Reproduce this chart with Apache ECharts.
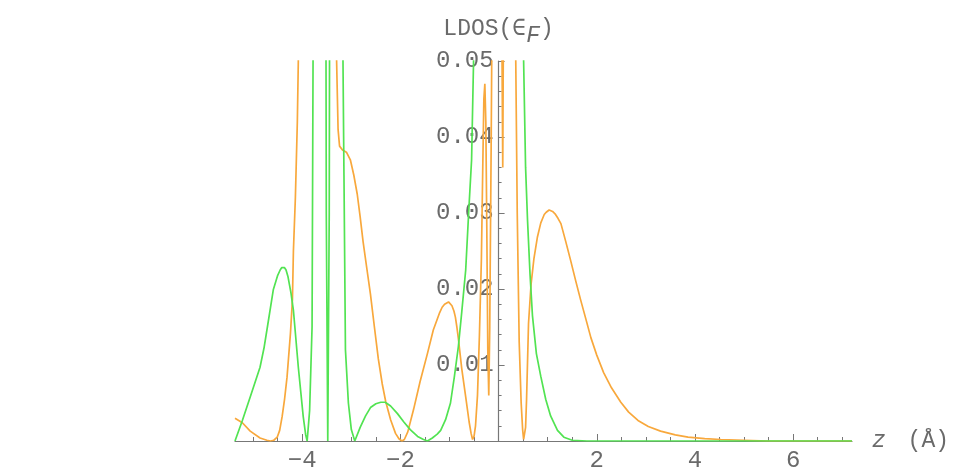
<!DOCTYPE html>
<html>
<head>
<meta charset="utf-8">
<script src="https://cdn.jsdelivr.net/npm/echarts@6/dist/echarts.min.js"></script>
<style>
  html, body { margin: 0; padding: 0; background: #fff; }
  #chart { width: 972px; height: 474px; }
</style>
</head>
<body>
<div id="chart"></div>
<script>
// LDOS(eF) along z, two curves (values above 0.05 run off the top)
let orangeX = [-5.37, -5.22, -5.06, -4.86, -4.72, -4.65, -4.58, -4.51, -4.46, -4.41, -4.36, -4.31, -4.24, -4.2, -4.18, -4.14, -4.1, -4.08, -4.05,
  -3.7, -3.32, -3.3, -3.27, -3.24, -3.18, -3.1, -3.02, -2.95, -2.88, -2.82, -2.76, -2.68, -2.61, -2.53, -2.45,
  -2.37, -2.3, -2.2, -2.1, -2.03, -1.97, -1.92, -1.85, -1.73, -1.6, -1.45, -1.33, -1.2, -1.15, -1.1, -1.06, -1.02, -0.98, -0.95, -0.91, -0.88,
  -0.85, -0.82, -0.75, -0.67, -0.6, -0.56, -0.53, -0.5, -0.47, -0.43, -0.39, -0.35, -0.32, -0.3, -0.28, -0.26, -0.24, -0.22,
  -0.2, -0.18, -0.15, -0.13, -0.05, 0.05, 0.085, 0.11, 0.25, 0.33, 0.35, 0.38, 0.42, 0.46, 0.49, 0.51, 0.53, 0.55, 0.57,
  0.61, 0.66, 0.72, 0.79, 0.86, 0.93, 0.97, 1.0, 1.03, 1.06, 1.1, 1.15, 1.21, 1.27, 1.37, 1.47, 1.57, 1.67, 1.78, 1.88, 2.0, 2.14, 2.3,
  2.49, 2.65, 2.84, 3.05, 3.3, 3.6, 3.86, 4.2, 4.53, 5.0, 5.5, 7.2];
let orangeY = [0.003, 0.0024, 0.0013, 0.0004, 0.0001, 0, 0.0001, 0.0005, 0.0014, 0.0032, 0.0055, 0.0084, 0.0142, 0.0186, 0.025, 0.032, 0.042, 0.05, 0.07,
  0.1, 0.07, 0.05, 0.041, 0.0388, 0.0383, 0.038, 0.037, 0.035, 0.0325, 0.0295, 0.0262, 0.0225, 0.0193, 0.015, 0.0108,
  0.0075, 0.0052, 0.0028, 0.001, 0.0003, 0, 0.0002, 0.0012, 0.0042, 0.0078, 0.0115, 0.0146, 0.0169, 0.0176, 0.018, 0.0182, 0.0183, 0.0181, 0.0178, 0.0171, 0.0163,
  0.015, 0.0135, 0.0095, 0.0058, 0.0025, 0.001, 0.0002, 0.0006, 0.002, 0.006, 0.014, 0.024, 0.037, 0.045, 0.047, 0.042, 0.028, 0.012,
  0.006, 0.015, 0.04, 0.06, 0.1, 0.07, 0.036, 0.07, 0.1, 0.06, 0.05, 0.03, 0.013, 0.005, 0.0015, 0.0002, 0, 0.0018, 0.0055,
  0.0155, 0.0205, 0.024, 0.0268, 0.0287, 0.0298, 0.0301, 0.0303, 0.0304, 0.0304, 0.0302, 0.0299, 0.0293, 0.0286, 0.0262, 0.0237, 0.0211, 0.0186, 0.016, 0.0136, 0.0113, 0.009, 0.007,
  0.0051, 0.0038, 0.0027, 0.0019, 0.0013, 0.0008, 0.0005, 0.0003, 0.0002, 0.0001, 0, 0];

let greenX = [-5.37, -5.22, -5.05, -4.86, -4.78, -4.71, -4.59, -4.5, -4.45, -4.42, -4.39, -4.36, -4.33, -4.29, -4.23, -4.18, -4.08,
  -3.98, -3.93, -3.9, -3.85, -3.8, -3.78, -3.76, -3.65, -3.53, -3.51, -3.48, -3.45, -3.43, -3.3, -3.2, -3.17,
  -3.15, -3.12, -3.06, -3.0, -2.93, -2.82, -2.71, -2.61, -2.5, -2.4, -2.31, -2.2, -2.06, -1.93, -1.8, -1.65,
  -1.53, -1.45, -1.35, -1.25, -1.18, -1.08, -0.98, -0.9, -0.82, -0.75, -0.67, -0.61, -0.55, -0.51, -0.48, 0,
  0.48, 0.51, 0.55, 0.59, 0.64, 0.69, 0.77, 0.86, 0.96, 1.06, 1.2, 1.33, 1.5, 1.8, 7.2];
let greenY = [0, 0.0027, 0.006, 0.0097, 0.0122, 0.015, 0.0199, 0.0218, 0.0225, 0.0228, 0.0229, 0.0228, 0.0225, 0.0216, 0.0195, 0.0172, 0.0097,
  0.0032, 0.0008, 0, 0.004, 0.015, 0.05, 0.1, 0.1, 0.1, 0.03, 0, 0.03, 0.1, 0.1, 0.1, 0.05,
  0.035, 0.012, 0.005, 0.0015, 0, 0.0018, 0.0033, 0.0044, 0.0049, 0.0051, 0.0051, 0.0046, 0.0036, 0.0025, 0.0015, 0.0006,
  0.0002, 0, 0.0004, 0.0009, 0.0014, 0.0028, 0.005, 0.0085, 0.0124, 0.017, 0.0225, 0.03, 0.037, 0.05, 0.07, 0.1,
  0.07, 0.05, 0.036, 0.029, 0.022, 0.0165, 0.0115, 0.0085, 0.0055, 0.0033, 0.0014, 0.0005, 0.0001, 0, 0];

let xLabels = [-4, -2, 2, 4, 6];
let xMinorTicks = [-5, -4.5, -3.5, -3, -2.5, -1.5, -1, -0.5, 0.5, 1, 1.5, 2.5, 3, 3.5, 4.5, 5, 5.5, 6.5, 7];

let xMin = -5.37, xMax = 7.2;
let yMax = 0.05;

const font = "'Liberation Mono', 'Courier New', monospace";
const gray = '#6a6a6a';
const gridLeft = 235, gridRight = 120;

function zip(xs, ys) {
  return xs.map(function (x, i) { return [x, ys[i]]; });
}

// the y axis sits at z = 0, so shift it right by the distance from the grid edge to zero
let plotWidth = 972 - gridLeft - gridRight;
let zeroOffset = (0 - xMin) / (xMax - xMin) * plotWidth;

let chart = echarts.init(document.getElementById('chart'));
chart.setOption({
  animation: false,
  backgroundColor: '#fff',
  grid: { left: gridLeft, right: gridRight, top: 61, bottom: 33 },
  xAxis: [{
    type: 'value',
    min: xMin,
    max: xMax,
    name: '{i|z} (Å)',
    nameLocation: 'end',
    nameGap: 20,
    nameTextStyle: {
      fontFamily: font, fontSize: 23, color: gray,
      rich: { i: { fontFamily: font, fontSize: 23, color: gray, fontStyle: 'italic', padding: [0, 8, 0, 0] } }
    },
    axisLine: { onZero: false, lineStyle: { color: '#777', width: 1.2 } },
    axisTick: { show: true, inside: true, length: 4, customValues: xMinorTicks, lineStyle: { color: '#777' } },
    axisLabel: { customValues: xLabels, fontFamily: font, fontSize: 24, color: gray, margin: 8,
      formatter: function (v) { return v < 0 ? '\u2212' + Math.abs(v) : '' + v; } },
    splitLine: { show: false }
  }, {
    type: 'value',
    min: xMin,
    max: xMax,
    position: 'bottom',
    axisLine: { show: false, onZero: false },
    axisTick: { show: true, inside: true, length: 7, customValues: xLabels, lineStyle: { color: '#777' } },
    axisLabel: { show: false },
    splitLine: { show: false }
  }],
  yAxis: {
    type: 'value',
    min: 0,
    max: yMax,
    interval: 0.01,
    offset: -zeroOffset,
    name: 'LDOS(∈{f|F})',
    nameLocation: 'end',
    nameGap: 14,
    nameTextStyle: {
      fontFamily: font, fontSize: 23, color: gray,
      rich: { f: { fontFamily: font, fontSize: 23, color: gray, fontStyle: 'italic', padding: [14, 0, 0, 0] } }
    },
    axisLine: { show: true, onZero: false, lineStyle: { color: '#777', width: 1.2 } },
    axisTick: { show: true, inside: true, length: 6, lineStyle: { color: '#777' } },
    minorTick: { show: true, splitNumber: 5, length: 3, lineStyle: { color: '#777' } },
    axisLabel: { fontFamily: font, fontSize: 24, color: gray, margin: 5,
      formatter: function (v) { return v === 0 ? '' : v.toFixed(2); } },
    splitLine: { show: false },
    minorSplitLine: { show: false }
  },
  series: [{
    name: 'orange',
    type: 'line',
    showSymbol: false,
    clip: true,
    lineStyle: { color: '#f8a83c', width: 1.7 },
    data: zip(orangeX, orangeY)
  }, {
    name: 'green',
    type: 'line',
    showSymbol: false,
    clip: true,
    lineStyle: { color: '#52e352', width: 1.7 },
    data: zip(greenX, greenY)
  }]
});
</script>
</body>
</html>
